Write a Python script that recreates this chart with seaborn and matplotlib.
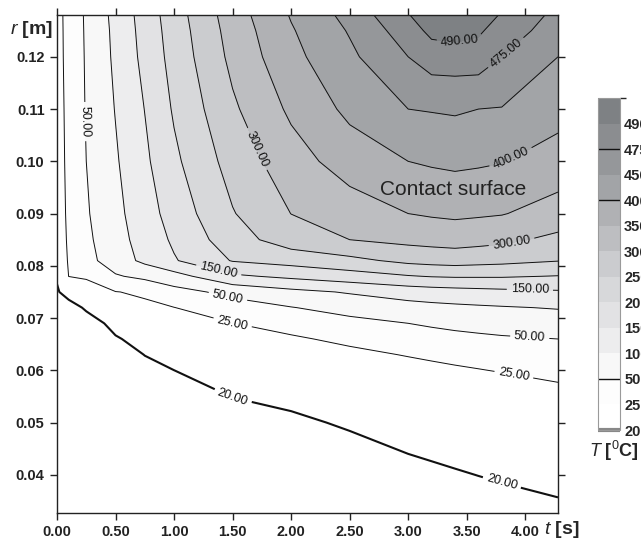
import numpy as np
import matplotlib
matplotlib.use("Agg")
import matplotlib.pyplot as plt
import seaborn as sns
from matplotlib.colors import ListedColormap, BoundaryNorm

# sample grid: time [s] and radius [m]
t_nodes = [0.0, 0.1, 0.25, 0.5, 0.75, 1.0, 1.5, 2.0, 2.5, 3.0, 3.2, 3.4, 3.6, 3.8, 4.28]
r_nodes = [0.0327, 0.04, 0.05, 0.06, 0.063, 0.066, 0.069, 0.072, 0.075,
           0.078, 0.081, 0.085, 0.09, 0.10, 0.11, 0.12, 0.125, 0.128]

# temperature [C] along r (bottom -> top) for each time column
temp_t0_00 = [15.0, 15.0, 15.0, 15.0, 15.5, 16.5, 17.5, 18.5, 19.5, 20.5, 24.2, 24.35, 24.4, 24.4, 24.4, 24.4, 24.4, 24.4]
temp_t0_10 = [12.0, 12.0, 12.0, 12.0, 12.0, 12.0, 13.9, 17.97, 22.0, 25.2, 25.5, 25.8, 26.1, 26.6, 27.0, 27.6, 27.8, 28.0]
temp_t0_25 = [12.0, 12.0, 12.0, 12.0, 12.3, 15.1, 17.87, 20.65, 23.4, 27.0, 42.0, 45.0, 47.5, 50.0, 53.8, 56.0, 57.5, 58.7]
temp_t0_50 = [12.0, 12.0, 12.0, 16.1, 17.8, 19.59, 21.35, 23.1, 24.88, 47.6, 75.7, 81.8, 87.0, 94.6, 102.0, 108.7, 111.0, 113.6]
temp_t0_75 = [12.0, 12.0, 14.1, 18.7, 20.09, 21.47, 22.84, 24.22, 27.97, 61.9, 111.0, 119.7, 128.0, 140.7, 151.0, 163.6, 168.0, 171.0]
temp_t1_00 = [12.0, 12.0, 15.9, 19.99, 21.23, 22.46, 23.69, 24.92, 41.7, 80.8, 145.8, 157.8, 170.7, 190.0, 205.6, 218.0, 223.0, 227.0]
temp_t1_50 = [12.3, 14.8, 18.32, 21.82, 22.87, 23.92, 24.97, 39.5, 63.2, 141.7, 203.0, 228.0, 247.0, 270.0, 292.0, 312.5, 320.0, 325.9]
temp_t2_00 = [13.3, 15.8, 19.25, 22.67, 23.7, 24.73, 28.7, 49.1, 86.8, 160.5, 218.8, 276.0, 300.5, 329.0, 359.0, 386.0, 395.7, 403.6]
temp_t2_50 = [15.2, 17.4, 20.49, 23.58, 24.51, 27.15, 43.3, 66.7, 104.3, 178.1, 237.1, 300.0, 325.0, 373.0, 411.5, 440.0, 452.0, 458.0]
temp_t3_00 = [16.96, 18.92, 21.61, 24.27, 25.55, 38.3, 50.0, 81.9, 122.4, 196.7, 262.1, 313.2, 350.0, 400.0, 450.0, 475.0, 483.0, 489.5]
temp_t3_20 = [17.42, 19.32, 21.93, 24.53, 26.6, 40.9, 56.1, 86.7, 127.4, 202.4, 267.2, 317.2, 355.3, 405.8, 451.5, 482.4, 492.5, 494.0]
temp_t3_40 = [17.85, 19.70, 22.22, 24.75, 27.5, 43.4, 61.5, 90.4, 131.3, 205.0, 270.7, 320.5, 359.0, 409.8, 453.0, 482.8, 494.0, 497.0]
temp_t3_60 = [18.27, 20.05, 22.49, 24.93, 28.15, 45.4, 65.7, 93.5, 134.8, 204.8, 266.7, 316.0, 356.0, 406.5, 450.0, 482.9, 491.5, 494.0]
temp_t3_80 = [18.63, 20.36, 22.73, 25.5, 36.8, 47.2, 69.6, 96.4, 138.2, 204.5, 263.2, 310.5, 352.5, 402.0, 448.0, 475.0, 483.0, 489.0]
temp_t4_28 = [19.32, 20.98, 23.25, 27.6, 40.96, 50.0, 75.9, 102.8, 144.4, 198.1, 251.8, 288.2, 329.0, 380.0, 417.0, 450.0, 463.0, 468.0]

levels = [20, 25, 50, 100, 150, 200, 250, 300, 350, 400, 450, 475, 490, 500]
band_colors = ["#ffffff", "#fdfdfd", "#f8f8f8", "#ededee", "#e2e2e4", "#d7d8da", "#cbcccf",
               "#bdbec1", "#b0b1b4", "#a2a4a7", "#95979a", "#8b8d90", "#7e8184"]
label_levels = [20, 25, 50, 150, 300, 400, 475, 490]
plain_levels = [100, 200, 250, 350, 450]
x_ticks = [0.0, 0.5, 1.0, 1.5, 2.0, 2.5, 3.0, 3.5, 4.0]
y_ticks = [0.04, 0.05, 0.06, 0.07, 0.08, 0.09, 0.10, 0.11, 0.12]

# where the contour labels sit in the picture (t, r)
label_spots = [(3.44, 0.1229), (3.85, 0.1204), (3.90, 0.0997), (1.735, 0.1026),
               (3.89, 0.0837), (1.37, 0.0781), (4.04, 0.0755), (0.24, 0.1076),
               (1.46, 0.0741), (4.04, 0.0668), (1.50, 0.0691), (3.90, 0.0588),
               (1.50, 0.0548), (3.80, 0.0385)]

sns.set_theme(style="ticks", rc={"axes.linewidth": 1.0})
plt.rcParams["font.family"] = ["Liberation Sans", "DejaVu Sans"]
plt.rcParams["mathtext.fontset"] = "custom"
plt.rcParams["mathtext.it"] = "Liberation Sans:italic"
plt.rcParams["mathtext.rm"] = "Liberation Sans"
plt.rcParams["mathtext.bf"] = "Liberation Sans:bold"

T = np.column_stack([temp_t0_00, temp_t0_10, temp_t0_25, temp_t0_50, temp_t0_75,
                     temp_t1_00, temp_t1_50, temp_t2_00, temp_t2_50, temp_t3_00,
                     temp_t3_20, temp_t3_40, temp_t3_60, temp_t3_80, temp_t4_28])

# contour on the level index (like Origin's uneven level list), one step per band
lev_idx = np.arange(len(levels))
Z = np.where(T < levels[0], (T - levels[0]) / (levels[1] - levels[0]),
             np.interp(T, levels, lev_idx))
idx_of = dict(zip(levels, lev_idx))

fig = plt.figure(figsize=(6.41, 5.43), dpi=100)
ax = fig.add_axes([57 / 641, 1 - 513 / 543, 501 / 641, 498 / 543])

cmap = ListedColormap(band_colors)
norm = BoundaryNorm(lev_idx, cmap.N)
cf = ax.contourf(t_nodes, r_nodes, Z, levels=lev_idx, cmap=cmap, norm=norm)

ax.contour(t_nodes, r_nodes, Z, levels=[idx_of[v] for v in plain_levels],
           colors="#111111", linewidths=0.7)
lws = [1.5] + [0.7] * (len(label_levels) - 1)
cs = ax.contour(t_nodes, r_nodes, Z, levels=[idx_of[v] for v in label_levels],
                colors="#111111", linewidths=lws)
ax.clabel(cs, fmt={idx_of[v]: f"{v:.2f}" for v in label_levels}, fontsize=9,
          colors="#111111", manual=label_spots, inline=True, inline_spacing=4)

ax.set_xlim(0, 4.28)
ax.set_ylim(0.0327, 0.128)
ax.set_xticks(x_ticks)
ax.set_yticks(y_ticks)
ax.set_xticklabels([f"{v:.2f}" for v in x_ticks], fontweight="bold", fontsize=10.5)
ax.set_yticklabels([f"{v:.2f}" for v in y_ticks], fontweight="bold", fontsize=10.5)
ax.tick_params(direction="out", top=True, right=True, length=5, width=1.0,
               colors="#222222", pad=4)
for s in ax.spines.values():
    s.set_color("#222222")

ax.text(3.38, 0.0946, "Contact surface", ha="center", va="center", fontsize=15, color="#222222")

fig.text(10 / 641, 1 - 30 / 543, r"$r$ [m]", fontsize=14, fontweight="bold", va="center")
fig.text(544 / 641, 1 - 529 / 543, r"$t$ [s]", fontsize=14, fontweight="bold", va="center")

# colorbar with equal band heights
cax = fig.add_axes([598 / 641, 1 - 430 / 543, 22 / 641, 332 / 543])
cb = fig.colorbar(cf, cax=cax, ticks=lev_idx[:-1])
cb.ax.set_yticklabels([str(v) for v in levels[:-1]], fontweight="bold", fontsize=10.5)
cb.ax.tick_params(length=0, pad=3)
cb.outline.set_edgecolor("#9a9a9a")
cb.outline.set_linewidth(0.8)
cb.add_lines([idx_of[50], idx_of[400], idx_of[475]], ["#111111"] * 3, [1.0] * 3)
cb.add_lines([idx_of[20]], ["#888888"], [3.0], erase=False)
fig.text(589 / 641, 1 - 451 / 543, r"$T$ [$^0$C]", fontsize=13, fontweight="bold", va="center")

plt.savefig("out.png", dpi=100)
